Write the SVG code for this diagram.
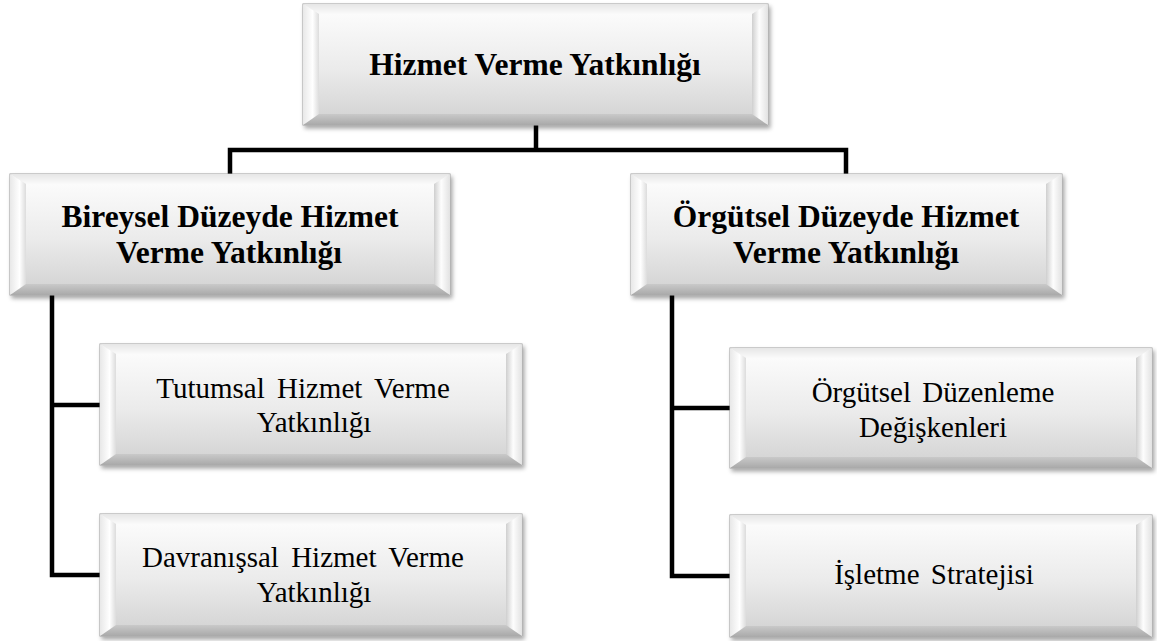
<svg xmlns="http://www.w3.org/2000/svg" width="1157" height="641" viewBox="0 0 1157 641">
  <style>
    .base { fill: url(#outer); stroke: #9c9c9c; stroke-width: 1; filter: url(#shadow); }
    .bt { fill: url(#bevTop); }
    .bb { fill: url(#bevBottom); }
    .bl { fill: url(#bevLeft); }
    .br { fill: url(#bevRight); }
    .face { fill: url(#faceGrad); }
    .wire { fill: none; stroke: #000; stroke-width: 4.5; stroke-linejoin: miter; stroke-linecap: butt; }
    text { font-family: 'Liberation Serif', 'Times New Roman', serif; fill: #000; text-anchor: middle; }
    .head { font-weight: bold; font-size: 31.5px; }
    .leaf { font-size: 29px; }
  </style>
  <defs>
    <filter id="shadow" x="-5%" y="-10%" width="112%" height="125%">
      <feDropShadow dx="2" dy="3" stdDeviation="2" flood-color="#000" flood-opacity="0.35"/>
    </filter>
    <linearGradient id="outer" x1="0" y1="0" x2="0" y2="1">
      <stop offset="0" stop-color="#f2f2f2"/>
      <stop offset="1" stop-color="#c4c4c4"/>
    </linearGradient>
    <linearGradient id="faceGrad" x1="0" y1="0" x2="0" y2="1">
      <stop offset="0" stop-color="#fbfbfb"/>
      <stop offset="0.55" stop-color="#ebebeb"/>
      <stop offset="1" stop-color="#d6d6d6"/>
    </linearGradient>
    <linearGradient id="bevTop" x1="0" y1="0" x2="0" y2="1">
      <stop offset="0" stop-color="#e6e6e6"/>
      <stop offset="1" stop-color="#fafafa"/>
    </linearGradient>
    <linearGradient id="bevBottom" x1="0" y1="0" x2="0" y2="1">
      <stop offset="0" stop-color="#c9c9c9"/>
      <stop offset="1" stop-color="#a9a9a9"/>
    </linearGradient>
    <linearGradient id="bevLeft" x1="0" y1="0" x2="1" y2="0">
      <stop offset="0" stop-color="#e8e8e8"/>
      <stop offset="0.6" stop-color="#ffffff"/>
      <stop offset="1" stop-color="#dcdcdc"/>
    </linearGradient>
    <linearGradient id="bevRight" x1="0" y1="0" x2="1" y2="0">
      <stop offset="0" stop-color="#cfcfcf"/>
      <stop offset="0.45" stop-color="#fdfdfd"/>
      <stop offset="1" stop-color="#e2e2e2"/>
    </linearGradient>
  </defs>

  <!-- connectors -->
  <g id="connectors">
    <path class="wire" d="M536,125 V150"/>
    <path class="wire" d="M230,175 V150 H846 V175"/>
    <path class="wire" d="M52,295 V575 H100"/>
    <path class="wire" d="M52,405 H100"/>
    <path class="wire" d="M672,295 V576 H730"/>
    <path class="wire" d="M672,408 H730"/>
  </g>

  <!-- root: x303 y4 w465 h121 -->
  <g id="root">
    <rect class="base" x="303" y="4" width="465" height="121"/>
    <polygon class="bt" points="303,4 768,4 752,14 319,14"/>
    <polygon class="bb" points="303,125 768,125 752,114 319,114"/>
    <polygon class="bl" points="303,4 319,14 319,114 303,125"/>
    <polygon class="br" points="768,4 752,14 752,114 768,125"/>
    <rect class="face" x="319" y="14" width="433" height="100"/>
    <text class="head" x="535" y="75">Hizmet Verme Yatkınlığı</text>
  </g>

  <!-- individual level: x10 y174 w440 h121 -->
  <g id="bireysel">
    <rect class="base" x="10" y="174" width="440" height="121"/>
    <polygon class="bt" points="10,174 450,174 434,184 26,184"/>
    <polygon class="bb" points="10,295 450,295 434,284 26,284"/>
    <polygon class="bl" points="10,174 26,184 26,284 10,295"/>
    <polygon class="br" points="450,174 434,184 434,284 450,295"/>
    <rect class="face" x="26" y="184" width="408" height="100"/>
    <text class="head" x="230" y="227">Bireysel Düzeyde Hizmet</text>
    <text class="head" x="229" y="263">Verme Yatkınlığı</text>
  </g>

  <!-- organisational level: x631 y174 w431 h121 -->
  <g id="orgutsel">
    <rect class="base" x="631" y="174" width="431" height="121"/>
    <polygon class="bt" points="631,174 1062,174 1046,184 647,184"/>
    <polygon class="bb" points="631,295 1062,295 1046,284 647,284"/>
    <polygon class="bl" points="631,174 647,184 647,284 631,295"/>
    <polygon class="br" points="1062,174 1046,184 1046,284 1062,295"/>
    <rect class="face" x="647" y="184" width="399" height="100"/>
    <text class="head" x="846" y="227">Örgütsel Düzeyde Hizmet</text>
    <text class="head" x="846" y="263">Verme Yatkınlığı</text>
  </g>

  <!-- attitudinal: x100 y344 w422 h121 -->
  <g id="tutumsal">
    <rect class="base" x="100" y="344" width="422" height="121"/>
    <polygon class="bt" points="100,344 522,344 506,354 116,354"/>
    <polygon class="bb" points="100,465 522,465 506,454 116,454"/>
    <polygon class="bl" points="100,344 116,354 116,454 100,465"/>
    <polygon class="br" points="522,344 506,354 506,454 522,465"/>
    <rect class="face" x="116" y="354" width="390" height="100"/>
    <text class="leaf" x="303" y="398" word-spacing="5">Tutumsal Hizmet Verme</text>
    <text class="leaf" x="314" y="432">Yatkınlığı</text>
  </g>

  <!-- behavioural: x100 y514 w422 h122 -->
  <g id="davranissal">
    <rect class="base" x="100" y="514" width="422" height="122"/>
    <polygon class="bt" points="100,514 522,514 506,524 116,524"/>
    <polygon class="bb" points="100,636 522,636 506,625 116,625"/>
    <polygon class="bl" points="100,514 116,524 116,625 100,636"/>
    <polygon class="br" points="522,514 506,524 506,625 522,636"/>
    <rect class="face" x="116" y="524" width="390" height="101"/>
    <text class="leaf" x="303" y="567" word-spacing="5">Davranışsal Hizmet Verme</text>
    <text class="leaf" x="314" y="602">Yatkınlığı</text>
  </g>

  <!-- organisational arrangement: x730 y348 w422 h120 -->
  <g id="duzenleme">
    <rect class="base" x="730" y="348" width="422" height="120"/>
    <polygon class="bt" points="730,348 1152,348 1136,358 746,358"/>
    <polygon class="bb" points="730,468 1152,468 1136,457 746,457"/>
    <polygon class="bl" points="730,348 746,358 746,457 730,468"/>
    <polygon class="br" points="1152,348 1136,358 1136,457 1152,468"/>
    <rect class="face" x="746" y="358" width="390" height="99"/>
    <text class="leaf" x="933" y="402" word-spacing="4">Örgütsel Düzenleme</text>
    <text class="leaf" x="933" y="437">Değişkenleri</text>
  </g>

  <!-- strategy: x730 y515 w422 h122 -->
  <g id="strateji">
    <rect class="base" x="730" y="515" width="422" height="122"/>
    <polygon class="bt" points="730,515 1152,515 1136,525 746,525"/>
    <polygon class="bb" points="730,637 1152,637 1136,626 746,626"/>
    <polygon class="bl" points="730,515 746,525 746,626 730,637"/>
    <polygon class="br" points="1152,515 1136,525 1136,626 1152,637"/>
    <rect class="face" x="746" y="525" width="390" height="101"/>
    <text class="leaf" x="934" y="584" word-spacing="4">İşletme Stratejisi</text>
  </g>
</svg>
